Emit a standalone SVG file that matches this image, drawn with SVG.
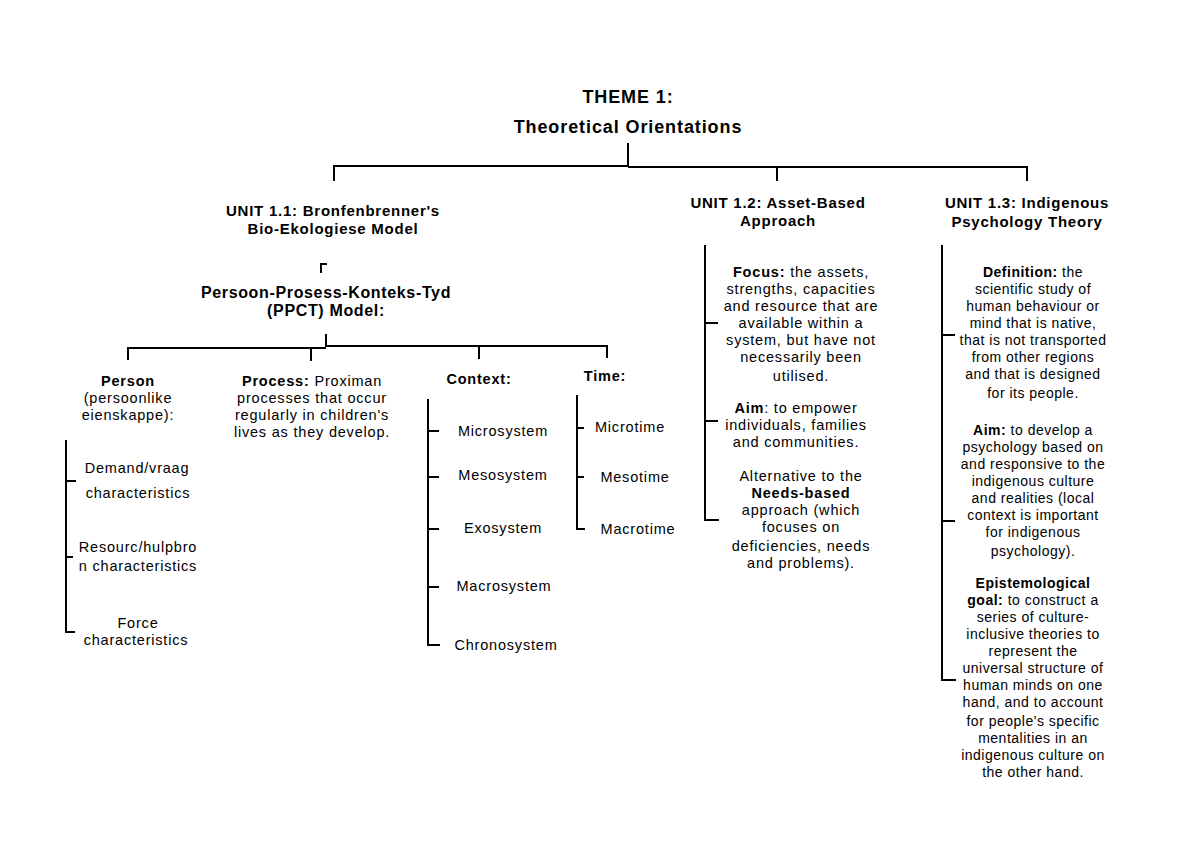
<svg xmlns="http://www.w3.org/2000/svg" width="1200" height="849" viewBox="0 0 1200 849">
<style>
text{font-family:"Liberation Sans",Arial,sans-serif;font-size:14.5px;letter-spacing:0.8px;fill:#000;text-anchor:middle}
.t{font-size:18px;font-weight:bold;letter-spacing:0.9px}
.b{font-weight:bold}
.h{font-size:15px;font-weight:bold;letter-spacing:0.75px}
.p{font-size:16px;font-weight:bold;letter-spacing:0.65px}
.r text{font-size:14px;letter-spacing:0.5px}
.c path{fill:none;stroke:#000;stroke-width:2}
</style>
<rect width="1200" height="849" fill="#fff"/>
<g class="c" id="connectors">
<path d="M628,143V167M334,181V166H628M628,167H1027V181M777,167V181"/>
<path d="M321,273V264H327" stroke-width="1.5"/>
<path d="M326,334V347M128,360V348H326M311,361V348M326,346H607V358M479,346V359"/>
<path d="M66,440V632H75M66,481H76M66,557H73"/>
<path d="M428,399V645H440M428,431H439M428,477H439M428,529H439M428,587H439"/>
<path d="M577,395V529H585M577,428H584M577,477H584"/>
<path d="M705,245V520H719M705,323H718M705,421H718"/>
<path d="M942,245V680H956M942,335H955M942,521H955"/>
</g>
<g id="title">
<text class="t" x="628" y="103">THEME 1:</text>
<text class="t" x="628" y="133">Theoretical Orientations</text>
</g>
<g id="unit11">
<text class="h" x="333" y="216">UNIT 1.1: Bronfenbrenner's</text>
<text class="h" x="333" y="234">Bio-Ekologiese Model</text>
</g>
<g id="ppct">
<text class="p" x="326" y="298">Persoon-Prosess-Konteks-Tyd</text>
<text class="p" x="326" y="316">(PPCT) Model:</text>
</g>
<g id="person">
<text x="128" y="386" class="b">Person</text>
<text x="128" y="403">(persoonlike</text>
<text x="128" y="420">eienskappe):</text>
</g>
<g id="process">
<text x="312" y="386"><tspan class="b">Process:</tspan> Proximan</text>
<text x="312" y="403">processes that occur</text>
<text x="312" y="420">regularly in children's</text>
<text x="312" y="437">lives as they develop.</text>
</g>
<g id="context"><text x="479" y="384" class="b">Context:</text></g>
<g id="time"><text x="605" y="381" class="b">Time:</text></g>
<g id="demand">
<text x="137" y="473">Demand/vraag</text>
<text x="138" y="498">characteristics</text>
</g>
<g id="resource">
<text x="138" y="552">Resourc/hulpbro</text>
<text x="138" y="571">n characteristics</text>
</g>
<g id="force">
<text x="138" y="628">Force</text>
<text x="136" y="645">characteristics</text>
</g>
<g id="microsystem"><text x="503" y="436">Microsystem</text></g>
<g id="mesosystem"><text x="503" y="480">Mesosystem</text></g>
<g id="exosystem"><text x="503" y="533">Exosystem</text></g>
<g id="macrosystem"><text x="504" y="591">Macrosystem</text></g>
<g id="chronosystem"><text x="506" y="650">Chronosystem</text></g>
<g id="microtime"><text x="630" y="432">Microtime</text></g>
<g id="mesotime"><text x="635" y="482">Mesotime</text></g>
<g id="macrotime"><text x="638" y="534">Macrotime</text></g>
<g id="unit12">
<text class="h" x="778" y="208">UNIT 1.2: Asset-Based</text>
<text class="h" x="778" y="226">Approach</text>
</g>
<g id="focus">
<text x="801" y="277"><tspan class="b">Focus:</tspan> the assets,</text>
<text x="801" y="294">strengths, capacities</text>
<text x="801" y="311">and resource that are</text>
<text x="801" y="328">available within a</text>
<text x="801" y="345">system, but have not</text>
<text x="801" y="362">necessarily been</text>
<text x="801" y="381">utilised.</text>
</g>
<g id="aim12">
<text x="796" y="413"><tspan class="b">Aim</tspan>: to empower</text>
<text x="796" y="430">individuals, families</text>
<text x="796" y="447">and communities.</text>
</g>
<g id="alternative">
<text x="801" y="481">Alternative to the</text>
<text x="801" y="498" class="b">Needs-based</text>
<text x="801" y="515">approach (which</text>
<text x="801" y="532">focuses on</text>
<text x="801" y="551">deficiencies, needs</text>
<text x="801" y="568">and problems).</text>
</g>
<g id="unit13">
<text class="h" x="1027" y="208">UNIT 1.3: Indigenous</text>
<text class="h" x="1027" y="227">Psychology Theory</text>
</g>
<g id="definition" class="r">
<text x="1033" y="277"><tspan class="b">Definition:</tspan> the</text>
<text x="1033" y="294">scientific study of</text>
<text x="1033" y="311">human behaviour or</text>
<text x="1033" y="328">mind that is native,</text>
<text x="1033" y="345">that is not transported</text>
<text x="1033" y="362">from other regions</text>
<text x="1033" y="379">and that is designed</text>
<text x="1033" y="398">for its people.</text>
</g>
<g id="aim13" class="r">
<text x="1033" y="435"><tspan class="b">Aim:</tspan> to develop a</text>
<text x="1033" y="452">psychology based on</text>
<text x="1033" y="469">and responsive to the</text>
<text x="1033" y="486">indigenous culture</text>
<text x="1033" y="503">and realities (local</text>
<text x="1033" y="520">context is important</text>
<text x="1033" y="537">for indigenous</text>
<text x="1033" y="556">psychology).</text>
</g>
<g id="epistemological" class="r">
<text x="1033" y="588" class="b">Epistemological</text>
<text x="1033" y="605"><tspan class="b">goal:</tspan> to construct a</text>
<text x="1033" y="622">series of culture-</text>
<text x="1033" y="639">inclusive theories to</text>
<text x="1033" y="656">represent the</text>
<text x="1033" y="673">universal structure of</text>
<text x="1033" y="690">human minds on one</text>
<text x="1033" y="707">hand, and to account</text>
<text x="1033" y="726">for people's specific</text>
<text x="1033" y="743">mentalities in an</text>
<text x="1033" y="760">indigenous culture on</text>
<text x="1033" y="777">the other hand.</text>
</g>
</svg>
